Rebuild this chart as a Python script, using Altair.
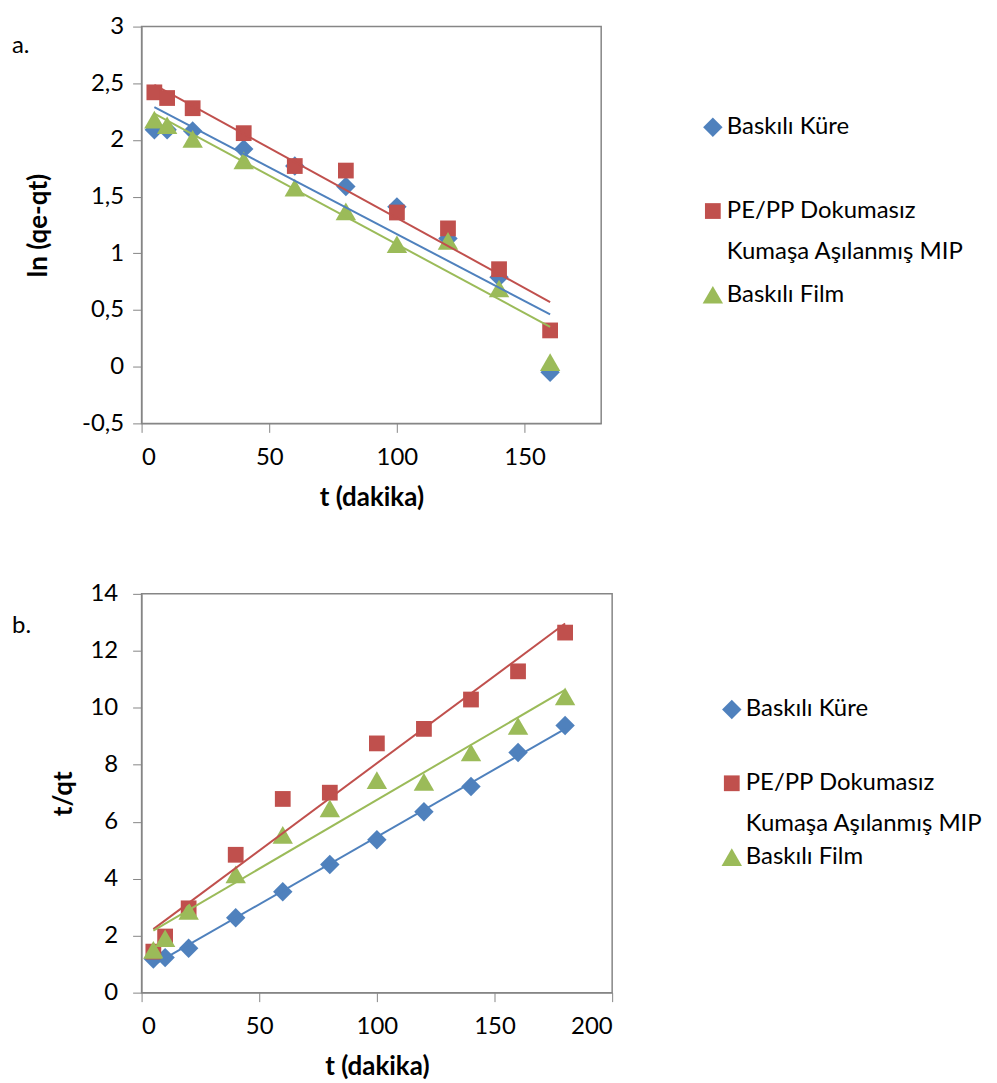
import altair as alt
import pandas as pd

series = ["Baskılı Küre", "PE/PP Dokumasız Kumaşa Aşılanmış MIP", "Baskılı Film"]
colors = ["#4F81BD", "#C0504D", "#9BBB59"]
shapes = ["diamond", "square", "triangle-up"]
sizes = [380, 250, 420]

# Panel a: ln(qe-qt) vs t
t_a = [5, 10, 20, 40, 60, 80, 100, 120, 140, 160]
kure_a = [2.09, 2.09, 2.08, 1.92, 1.77, 1.59, 1.41, 1.13, 0.79, -0.05]
pepp_a = [2.42, 2.37, 2.28, 2.06, 1.77, 1.73, 1.36, 1.22, 0.86, 0.32]
film_a = [2.18, 2.13, 2.01, 1.82, 1.58, 1.37, 1.08, 1.11, 0.69, 0.04]

# Panel b: t/qt vs t
t_b = [5, 10, 20, 40, 60, 80, 100, 120, 140, 160, 180]
kure_b = [1.18, 1.23, 1.56, 2.63, 3.54, 4.50, 5.37, 6.35, 7.24, 8.43, 9.38]
pepp_b = [1.44, 1.97, 2.96, 4.84, 6.80, 7.02, 8.75, 9.26, 10.29, 11.28, 12.64]
film_b = [1.50, 1.91, 2.87, 4.15, 5.54, 6.47, 7.46, 7.40, 8.43, 9.36, 10.40]

FONT = "Lato"
LABEL_EXPR = ("datum.label == 'Baskılı Küre' ? ['Baskılı Küre', ''] : "
              "datum.label == 'PE/PP Dokumasız Kumaşa Aşılanmış MIP' ? "
              "['PE/PP Dokumasız', 'Kumaşa Aşılanmış MIP'] : datum.label")


def panel(t, ys, xdom, xvals, ydom, yvals, ytitle, w, h, lx, ly, rowpad,
          tag, tdx, tdy, ytx, ylabpad):
    rows = []
    for name, vals in zip(series, ys):
        for tt, v in zip(t, vals):
            rows.append({"t": tt, "v": v, "s": name})
    df = pd.DataFrame(rows)
    base = alt.Chart(df)
    x = alt.X("t:Q", scale=alt.Scale(domain=xdom, nice=False, zero=False),
              axis=alt.Axis(values=xvals, title="t (dakika)"))
    y = alt.Y("v:Q", scale=alt.Scale(domain=ydom, nice=False, zero=False),
              axis=alt.Axis(values=yvals, title=ytitle, titleX=ytx, labelPadding=ylabpad,
                            labelExpr="replace(toString(datum.value), '.', ',')"))
    leg = alt.Legend(orient="none", legendX=lx, legendY=ly, title=None,
                     labelFontSize=24, labelFont=FONT, symbolSize=200,
                     labelLimit=500, rowPadding=rowpad, symbolStrokeWidth=0,
                     labelOffset=2, symbolOpacity=1, labelExpr=LABEL_EXPR)
    pts = base.mark_point(filled=True, opacity=1, strokeWidth=0).encode(
        x=x, y=y,
        color=alt.Color("s:N", scale=alt.Scale(domain=series, range=colors), legend=leg),
        shape=alt.Shape("s:N", scale=alt.Scale(domain=series, range=shapes), legend=leg),
        size=alt.Size("s:N", scale=alt.Scale(type="ordinal", domain=series, range=sizes),
                      legend=None),
    )
    lines = base.transform_regression("t", "v", groupby=["s"]).mark_line(strokeWidth=2).encode(
        x="t:Q", y="v:Q",
        stroke=alt.Stroke("s:N", scale=alt.Scale(domain=series, range=colors), legend=None),
    )
    return alt.layer(pts, lines).properties(
        width=w, height=h,
        title=alt.TitleParams(tag, anchor="start", frame="group", dx=tdx, dy=tdy,
                              fontSize=24, fontWeight="normal", font=FONT),
    )


top = panel(t_a, [kure_a, pepp_a, film_a], [0, 180], [0, 50, 100, 150],
            [-0.5, 3], [-0.5, 0, 0.5, 1, 1.5, 2, 2.5, 3], "ln (qe-qt)",
            461, 398, 561, 89, 19, "a.", -130, 47, -90, 9)
bottom = panel(t_b, [kure_b, pepp_b, film_b], [0, 200], [0, 50, 100, 150, 200],
               [0, 14], [0, 2, 4, 6, 8, 10, 12, 14], "t/qt",
               472, 400, 580, 104, 9, "b.", -130, 60, -65, 15)

chart = alt.ConcatChart(concat=[top, bottom], columns=1, spacing=70).properties(
    padding={"left": 3, "top": 4, "right": 5, "bottom": 5}
).configure(
    style={"guide-label": {"lineHeight": 41}}
).configure_axis(
    domainColor="#868686", tickColor="#868686", grid=False,
    labelFont=FONT, titleFont=FONT, labelFontSize=24, titleFontSize=26,
    titleFontWeight="bold", labelColor="black", titleColor="black",
    tickSize=9, labelPadding=13, titlePadding=15,
).configure_view(stroke="#868686", strokeWidth=1.5).resolve_scale(
    color="independent", shape="independent", size="independent", stroke="independent"
)

chart.save("out.html", embed_options={"renderer": "svg", "actions": False})
